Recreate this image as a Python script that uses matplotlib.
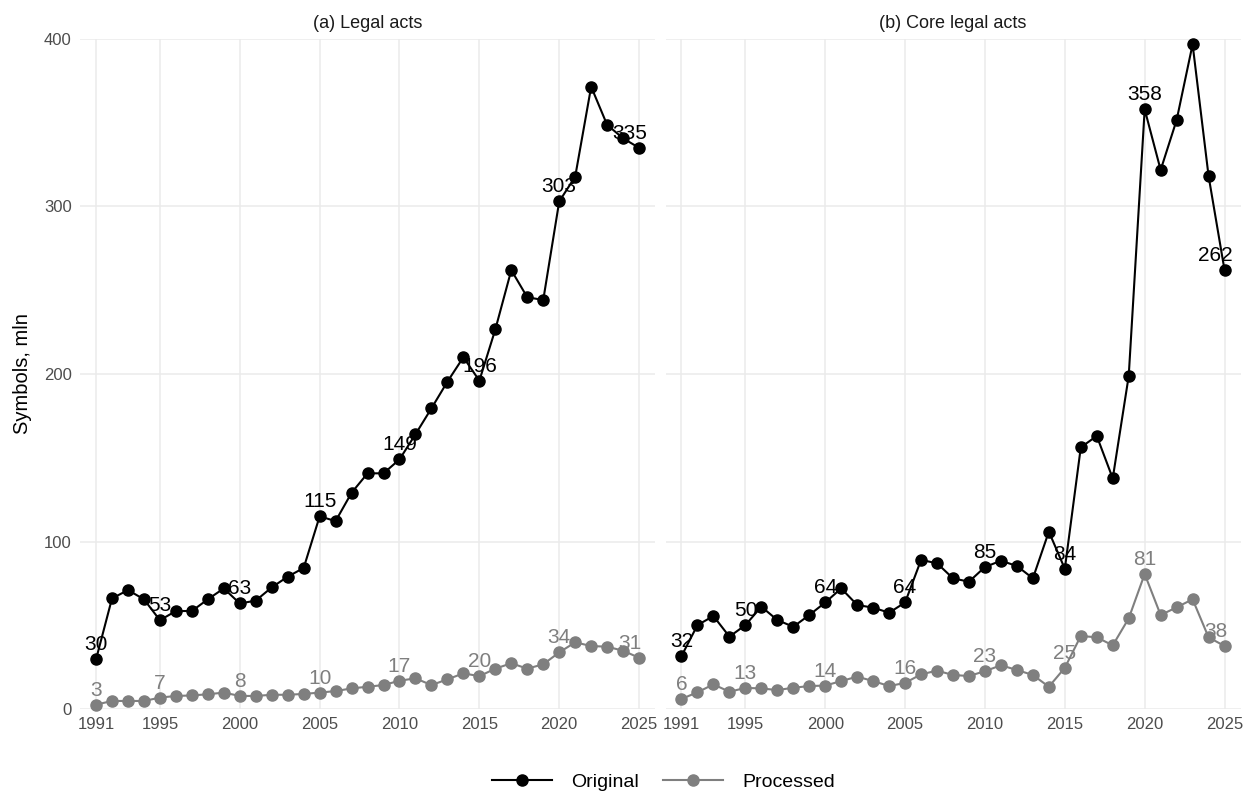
import matplotlib.pyplot as plt

# years on the x axis
years = list(range(1991, 2026))
label_years = [1991, 1995, 2000, 2005, 2010, 2015, 2020, 2025]
tick_years = [1991, 1995, 2000, 2005, 2010, 2015, 2020, 2025]
y_ticks = [0, 100, 200, 300, 400]

# (a) legal acts, symbols mln
legal_original = [29.6, 66, 71, 65.5, 53, 58.5, 58.5, 65.5, 72, 63,
                  64.7, 72.6, 79, 84.2, 115, 112.2, 129.1, 140.7, 140.7, 149,
                  164, 179.5, 195.4, 210, 196, 226.6, 262, 245.8, 244.2, 303,
                  317.8, 371.5, 348.7, 340.7, 335]
legal_processed = [2.6, 4.8, 4.8, 4.8, 6.8, 7.8, 8.1, 8.8, 9.8, 7.8,
                   7.8, 8.5, 8.5, 9, 9.8, 10.7, 12.3, 13.3, 14.3, 16.9,
                   18.3, 14.3, 17.7, 21.3, 19.6, 24.1, 27.3, 24.1, 26.7, 33.8,
                   39.8, 37.6, 37.2, 34.8, 30.6]

# (b) core legal acts
core_original = [31.6, 50.1, 55.5, 43.2, 50.1, 61.1, 53.1, 49.1, 56.1, 63.6,
                 72, 62.1, 60.5, 57.5, 63.6, 89, 87, 78, 76, 84.8,
                 88.5, 85.4, 78, 105.9, 83.7, 156.2, 163, 137.7, 198.8, 358,
                 321.8, 351.6, 396.8, 318.2, 262]
core_processed = [6, 10, 14.7, 10.3, 12.6, 12.3, 11.3, 12.7, 13.7, 14,
                  16.7, 19.3, 16.7, 13.7, 15.6, 20.7, 22.9, 20.3, 19.7, 22.6,
                  26.1, 23.3, 20.3, 13.3, 24.6, 43.6, 42.8, 38, 54.1, 80.6,
                  56.1, 60.7, 65.5, 42.8, 37.6]

panels = [("(a) Legal acts", legal_original, legal_processed),
          ("(b) Core legal acts", core_original, core_processed)]

plt.rcParams["font.family"] = ["Liberation Sans", "DejaVu Sans"]

orig_color = "black"
proc_color = "#7F7F7F"
grid_color = "#EBEBEB"
tick_color = "#4D4D4D"

fig = plt.figure(figsize=(12.47, 7.97), dpi=100)
ax_a = fig.add_axes([0.0642, 0.1104, 0.4611, 0.8407])
ax_b = fig.add_axes([0.5337, 0.1104, 0.4611, 0.8407])

for ax, (title, original, processed) in zip([ax_a, ax_b], panels):
    # lines with points
    ax.plot(years, original, color=orig_color, lw=1.5, marker="o", ms=8,
            label="Original", zorder=3, clip_on=False)
    ax.plot(years, processed, color=proc_color, lw=1.5, marker="o", ms=8,
            label="Processed", zorder=3, clip_on=False)
    # value labels on selected years
    for series, col in [(original, orig_color), (processed, proc_color)]:
        for yr in label_years:
            val = series[years.index(yr)]
            dx = 0
            if yr == 2025:
                dx = -6.5
            ax.annotate(str(int(round(val))), (yr, val), xytext=(dx, 6.5),
                        textcoords="offset points", ha="center", va="baseline",
                        fontsize=15, color=col, zorder=4, annotation_clip=False)
    ax.set_xlim(1990, 2026)
    ax.set_ylim(0, 400)
    ax.set_xticks(tick_years)
    ax.set_yticks(y_ticks)
    ax.grid(True, color=grid_color, lw=1.1)
    ax.set_axisbelow(True)
    for s in ax.spines.values():
        s.set_visible(False)
    ax.tick_params(length=0, labelsize=12, colors=tick_color, pad=6)
    ax.set_title(title, fontsize=13, color="#1A1A1A", pad=8)

ax_b.tick_params(labelleft=False)

fig.text(0.018, 0.5308, "Symbols, mln", rotation=90, ha="center", va="center",
         fontsize=14.5, color="black")

# legend at the bottom, kept inside the picture
handles, labels = ax_a.get_legend_handles_labels()
fig.legend(handles, labels, loc="center", bbox_to_anchor=(0.532, 0.019), ncol=2,
           frameon=False, fontsize=14, handlelength=3.1, handletextpad=1.0,
           columnspacing=1.2, borderpad=0.2)

plt.savefig("out.png", dpi=100)
